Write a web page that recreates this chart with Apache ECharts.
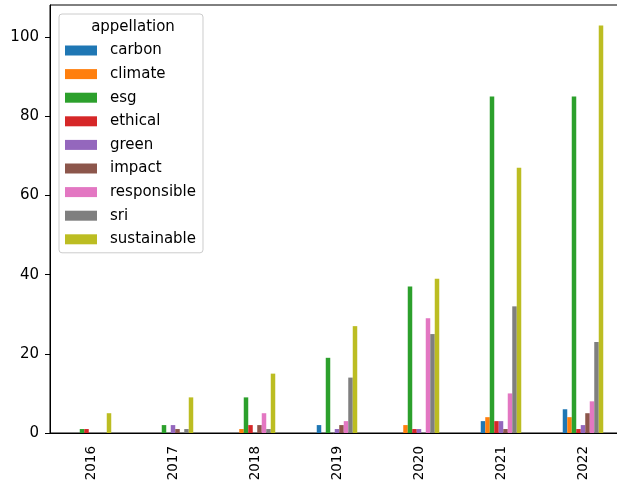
<!DOCTYPE html>
<html>
<head>
<meta charset="utf-8">
<script src="https://cdn.jsdelivr.net/npm/echarts@6/dist/echarts.min.js"></script>
<style>
  html, body { margin: 0; padding: 0; background: #fff; }
  #chart { width: 617px; height: 487px; }
</style>
</head>
<body>
<div id="chart"></div>
<script>
// years on the x axis
const years = ['2016', '2017', '2018', '2019', '2020', '2021', '2022'];

// counts per appellation, one value per year
const carbon      = [0, 0, 0, 2, 0, 3, 6];
const climate     = [0, 0, 1, 0, 2, 4, 4];
const esg         = [1, 2, 9, 19, 37, 85, 85];
const ethical     = [1, 0, 2, 0, 1, 3, 1];
const green       = [0, 2, 0, 1, 1, 3, 2];
const impact      = [0, 1, 2, 2, 0, 1, 5];
const responsible = [0, 0, 5, 3, 29, 10, 8];
const sri         = [0, 1, 1, 14, 25, 32, 23];
const sustainable = [5, 9, 15, 27, 39, 67, 103];

const yTicks = [0, 20, 40, 60, 80, 100];

const names  = ['carbon', 'climate', 'esg', 'ethical', 'green', 'impact', 'responsible', 'sri', 'sustainable'];
const values = [carbon, climate, esg, ethical, green, impact, responsible, sri, sustainable];
const colors = ['#1f77b4', '#ff7f0e', '#2ca02c', '#d62728', '#9467bd',
                '#8c564b', '#e377c2', '#7f7f7f', '#bcbd22'];

const font = 'DejaVu Sans';

const series = names.map(function (n, i) {
  return {
    name: n,
    type: 'bar',
    data: values[i],
    barWidth: 4.5,
    barGap: '0%',
    itemStyle: { color: colors[i] },
    emphasis: { disabled: true }
  };
});

const chart = echarts.init(document.getElementById('chart'));
chart.setOption({
  animation: false,
  backgroundColor: '#fff',
  color: colors,
  grid: {
    left: 50, top: 5, width: 574, height: 428,
    outerBoundsMode: 'none',
    containLabel: false,
    show: true, borderColor: '#000', borderWidth: 1, backgroundColor: 'transparent'
  },
  xAxis: {
    type: 'category',
    data: years,
    axisLine: { lineStyle: { color: '#000', width: 1 } },
    axisTick: { alignWithLabel: true, length: 5, lineStyle: { color: '#000' } },
    axisLabel: { rotate: 90, margin: 13, color: '#000', fontSize: 13.5, fontFamily: font }
  },
  yAxis: {
    type: 'value',
    min: 0,
    max: 108.15,
    interval: 20,
    splitLine: { show: false },
    axisLine: { show: true, lineStyle: { color: '#000', width: 1 } },
    axisTick: { show: true, length: 5, lineStyle: { color: '#000' }, customValues: yTicks },
    axisLabel: {
      margin: 11, color: '#000', fontSize: 15, fontFamily: font,
      customValues: yTicks,
      formatter: function (v) { return yTicks.indexOf(v) >= 0 ? String(v) : ''; }
    }
  },
  legend: {
    orient: 'vertical',
    left: 59, top: 14,
    padding: [29, 7, 6, 6],
    itemWidth: 32, itemHeight: 10, itemGap: 8.6,
    icon: 'rect',
    backgroundColor: 'rgba(255,255,255,0.85)',
    borderColor: '#cccccc', borderWidth: 1, borderRadius: 3,
    textStyle: { fontSize: 15, lineHeight: 15, fontFamily: font, color: '#000', padding: [0, 0, 0, 8] },
    selectedMode: false,
    data: names
  },
  graphic: [{
    type: 'text',
    z: 100,
    x: 133, y: 27,
    style: {
      text: 'appellation', fontSize: 15, fontFamily: font, fill: '#000',
      align: 'center', verticalAlign: 'middle'
    }
  }],
  series: series
});
</script>
</body>
</html>
